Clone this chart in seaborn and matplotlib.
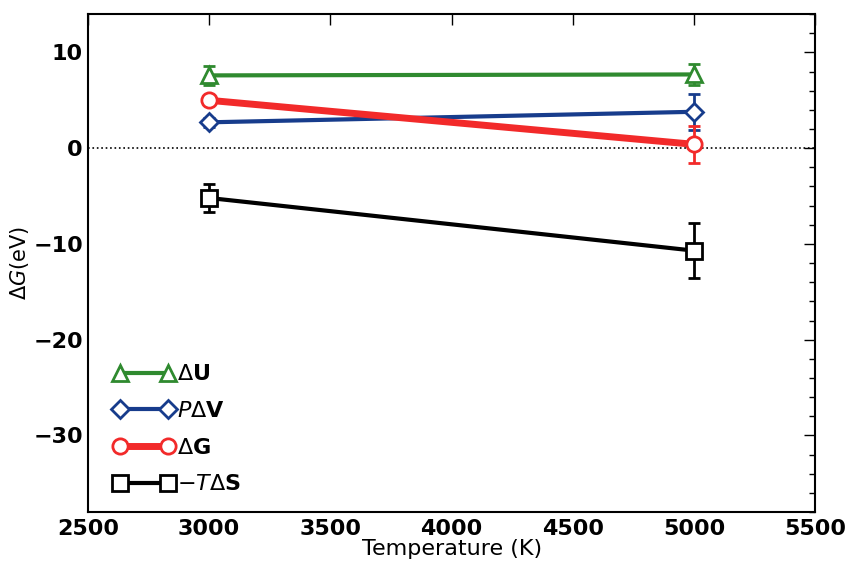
import numpy as np
import pandas as pd
import seaborn as sns
import matplotlib.pyplot as plt
from matplotlib.ticker import MultipleLocator

# --- dati ---
temperature = [3000, 5000]
delta_u = [7.6, 7.7]
delta_u_err = [1.0, 1.1]
p_delta_v = [2.7, 3.8]
p_delta_v_err = [0.5, 1.9]
delta_g = [5.0, 0.4]
delta_g_err = [0.4, 1.9]
minus_t_delta_s = [-5.2, -10.7]
minus_t_delta_s_err = [1.5, 2.9]

serie = [
    (r'$\Delta$U', delta_u, delta_u_err, '#2f8a2f', '^', 3),
    (r'$P\Delta$V', p_delta_v, p_delta_v_err, '#173c8c', 'D', 3),
    (r'$\Delta$G', delta_g, delta_g_err, '#f22a2a', 'o', 5),
    (r'$-T\Delta$S', minus_t_delta_s, minus_t_delta_s_err, 'black', 's', 3),
]

sns.set_style('white')
plt.rcParams['font.family'] = ['DejaVu Sans']
plt.rcParams['mathtext.fontset'] = 'dejavusans'

fig = plt.figure(figsize=(8.53, 5.64), dpi=100)
ax = fig.add_axes([0.103, 0.092, 0.853, 0.883])

ax.axhline(0, color='black', linestyle=':', linewidth=1.2, zorder=1)

for nome, valori, errori, colore, marker, lw in serie:
    df = pd.DataFrame({'T': temperature, 'v': valori})
    ms = 9 if marker == 'D' else 11
    sns.lineplot(data=df, x='T', y='v', ax=ax, color=colore, linewidth=lw,
                 marker=marker, markersize=ms, markerfacecolor='white',
                 markeredgecolor=colore, markeredgewidth=2, label=nome, zorder=3)
    ax.errorbar(temperature, valori, yerr=errori, fmt='none', ecolor=colore,
                elinewidth=2, capsize=4, capthick=2, zorder=2)

ax.set_xlim(2500, 5500)
ax.set_ylim(-38, 14)
ax.xaxis.set_major_locator(MultipleLocator(500))
ax.yaxis.set_major_locator(MultipleLocator(10))
ax.yaxis.set_minor_locator(MultipleLocator(2))
ax.tick_params(which='both', direction='in', top=True, right=True, colors='black')
ax.tick_params(which='major', length=8, width=1, labelsize=16)
ax.tick_params(axis='x', which='major', pad=5)
ax.tick_params(which='minor', length=4, width=1)
for lab in ax.get_xticklabels() + ax.get_yticklabels():
    lab.set_fontweight('bold')
for sp in ax.spines.values():
    sp.set_linewidth(1.5)
    sp.set_color('black')

ax.set_xlabel('Temperature (K)', fontsize=16, labelpad=0, color='black')
ax.set_ylabel(r'$\Delta G$(eV)', fontsize=15, color='black')
ax.yaxis.set_label_coords(-0.078, 0.5)

leg = ax.legend(loc='lower left', frameon=False, fontsize=16, numpoints=2,
                handlelength=2.8, handletextpad=0.1, labelspacing=0.75,
                borderaxespad=0.4, bbox_to_anchor=(0.01, 0.0))
for t in leg.get_texts():
    t.set_fontweight('bold')
    t.set_color('black')

plt.savefig('out.png', dpi=100)
